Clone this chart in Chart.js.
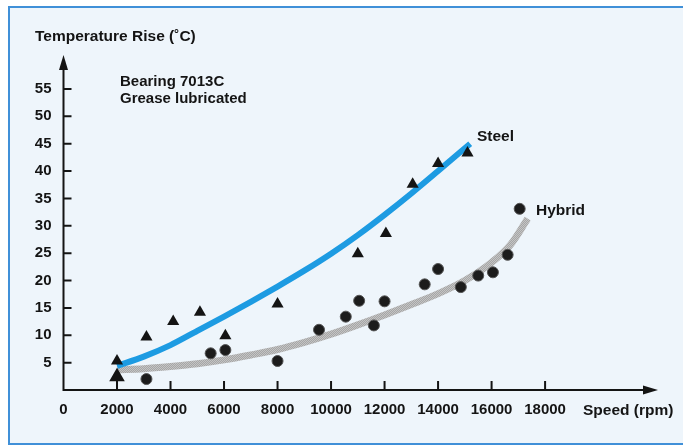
<!DOCTYPE html>
<html>
<head>
<meta charset="utf-8">
<script src="https://cdn.jsdelivr.net/npm/chart.js@4"></script>
<style>
  html, body { margin: 0; padding: 0; background: #fff; }
  #wrap { width: 683px; height: 448px; position: relative; }
</style>
</head>
<body>
<div id="wrap"><canvas id="tempChart"></canvas></div>
<script>
// Axis ticks
const xTicks = [0, 2000, 4000, 6000, 8000, 10000, 12000, 14000, 16000, 18000];
const yTicks = [5, 10, 15, 20, 25, 30, 35, 40, 45, 50, 55];

const steelX = [2000, 3100, 4100, 5100, 6050, 8000, 11000, 12050, 13050, 14000, 15100];
const steelY = [5.3, 9.7, 12.5, 14.2, 9.9, 15.7, 24.9, 28.6, 37.6, 41.4, 43.3];

const hybridX = [3100, 5500, 6050, 8000, 9550, 10550, 11050, 11600, 12000, 13500, 14000, 14850, 15500, 16050, 16600, 17050];
const hybridY = [2.0, 6.7, 7.3, 5.3, 11.0, 13.4, 16.3, 11.8, 16.2, 19.3, 22.1, 18.8, 20.9, 21.5, 24.7, 33.1];

// Start marker at 2000 rpm (arrow)
const startX = [2000, 2000];
const startY = [0, 2.4];

// Trend curves
const steelCurveX = [2000, 3000, 4000, 5000, 6000, 7000, 8000, 9000, 10000, 11000, 12000, 13000, 14000, 15200];
const steelCurveY = [4.4, 6.1, 8.2, 10.8, 13.4, 16.1, 18.9, 21.8, 24.9, 28.3, 32.0, 35.9, 40.0, 45.0];

const hybridCurveX = [2000, 3000, 4000, 5000, 6000, 7000, 8000, 9000, 10000, 11000, 12000, 13000, 14000, 15000, 16000, 16700, 17350];
const hybridCurveY = [3.7, 3.9, 4.3, 4.8, 5.5, 6.4, 7.4, 8.7, 10.2, 11.9, 13.7, 15.6, 17.6, 20.0, 23.3, 26.5, 31.3];

const toPoints = (xs, ys) => xs.map((x, i) => ({ x: x, y: ys[i] }));

const FONT = '"Liberation Sans", Arial, sans-serif';
const INK = '#141414';

// stippled grey for the hybrid curve
function greyPattern() {
    const c = document.createElement('canvas');
    c.width = 2; c.height = 2;
    const g = c.getContext('2d');
    g.fillStyle = '#a6a6a6'; g.fillRect(0, 0, 2, 2);
    g.fillStyle = '#c4c4c4'; g.fillRect(0, 0, 1, 1); g.fillRect(1, 1, 1, 1);
    return g.createPattern(c, 'repeat');
}

const framePlugin = {
    id: 'frame',
    beforeDraw(chart) {
        const ctx = chart.ctx;
        ctx.save();
        ctx.fillStyle = '#ffffff';
        ctx.fillRect(0, 0, chart.width, chart.height);
        ctx.fillStyle = '#eef5fb';
        ctx.fillRect(9, 7, chart.width - 9, 437);
        ctx.strokeStyle = '#4090d8';
        ctx.lineWidth = 2;
        ctx.beginPath();
        ctx.moveTo(chart.width, 7);
        ctx.lineTo(9, 7);
        ctx.lineTo(9, 444);
        ctx.lineTo(chart.width, 444);
        ctx.stroke();
        ctx.restore();
    },
    beforeDatasetsDraw(chart) {
        const { ctx, chartArea, scales } = chart;
        const x0 = scales.x.getPixelForValue(0);
        const y0 = scales.y.getPixelForValue(0);
        ctx.save();
        ctx.strokeStyle = INK;
        ctx.fillStyle = INK;
        ctx.lineWidth = 2;
        // axes
        ctx.beginPath();
        ctx.moveTo(x0, y0);
        ctx.lineTo(x0, chartArea.top + 10);
        ctx.moveTo(x0 - 1, y0);
        ctx.lineTo(chartArea.right - 10, y0);
        ctx.stroke();
        // arrow heads
        ctx.beginPath();
        ctx.moveTo(x0, chartArea.top);
        ctx.lineTo(x0 - 4.5, chartArea.top + 15);
        ctx.lineTo(x0 + 4.5, chartArea.top + 15);
        ctx.closePath();
        ctx.fill();
        ctx.beginPath();
        ctx.moveTo(chartArea.right, y0);
        ctx.lineTo(chartArea.right - 15, y0 - 4.5);
        ctx.lineTo(chartArea.right - 15, y0 + 4.5);
        ctx.closePath();
        ctx.fill();
        // tick marks pointing inwards
        ctx.beginPath();
        yTicks.forEach(v => {
            const y = scales.y.getPixelForValue(v);
            ctx.moveTo(x0, y);
            ctx.lineTo(x0 + 8, y);
        });
        xTicks.forEach(v => {
            if (v === 0) return;
            const x = scales.x.getPixelForValue(v);
            ctx.moveTo(x, y0);
            ctx.lineTo(x, y0 - 9);
        });
        ctx.stroke();
        ctx.restore();
    },
    afterDraw(chart) {
        const ctx = chart.ctx;
        ctx.save();
        ctx.fillStyle = INK;
        ctx.textBaseline = 'middle';
        ctx.textAlign = 'left';
        ctx.font = 'bold 15.5px ' + FONT;
        ctx.fillText('Temperature Rise (˚C)', 35, 37);
        ctx.fillText('Steel', 477, 137);
        ctx.fillText('Hybrid', 536, 211);
        ctx.fillText('Speed (rpm)', 583, 411);
        ctx.font = 'bold 15px ' + FONT;
        ctx.fillText('Bearing 7013C', 120, 82);
        ctx.fillText('Grease lubricated', 120, 99);
        ctx.restore();
    }
};

const tickFont = { family: FONT, size: 15, weight: 'bold' };

new Chart(document.getElementById('tempChart'), {
    type: 'scatter',
    data: {
        datasets: [
            {
                label: 'Steel',
                data: toPoints(steelX, steelY),
                pointStyle: 'triangle',
                pointRadius: 7,
                backgroundColor: INK,
                borderColor: INK,
                borderWidth: 0,
                order: 0
            },
            {
                label: 'Hybrid',
                data: toPoints(hybridX, hybridY),
                pointStyle: 'circle',
                pointRadius: 5.5,
                backgroundColor: '#1c1c1c',
                borderColor: '#555',
                borderWidth: 1,
                order: 0
            },
            {
                label: 'Start',
                data: toPoints(startX, startY),
                showLine: true,
                borderColor: INK,
                borderWidth: 2,
                pointStyle: 'triangle',
                pointRadius: [0, 7],
                backgroundColor: INK,
                order: 0
            },
            {
                label: 'Steel trend',
                data: toPoints(steelCurveX, steelCurveY),
                showLine: true,
                borderColor: '#1d9be2',
                borderWidth: 6,
                borderCapStyle: 'butt',
                cubicInterpolationMode: 'monotone',
                pointRadius: 0,
                order: 1
            },
            {
                label: 'Hybrid trend',
                data: toPoints(hybridCurveX, hybridCurveY),
                showLine: true,
                borderColor: greyPattern(),
                borderWidth: 7,
                borderCapStyle: 'butt',
                cubicInterpolationMode: 'monotone',
                pointRadius: 0,
                order: 2
            }
        ]
    },
    options: {
        responsive: true,
        maintainAspectRatio: false,
        animation: false,
        layout: { padding: { left: 0, right: 25, top: 55, bottom: 0 } },
        plugins: {
            legend: { display: false },
            tooltip: { enabled: false }
        },
        scales: {
            x: {
                type: 'linear',
                min: 0,
                max: 22220,
                afterBuildTicks: s => { s.ticks = xTicks.map(v => ({ value: v })); },
                afterFit: s => { s.height = 58; },
                grid: { display: false, drawTicks: false },
                border: { display: false },
                ticks: {
                    color: INK,
                    font: tickFont,
                    padding: 11,
                    maxRotation: 0,
                    autoSkip: false,
                    callback: v => String(v)
                }
            },
            y: {
                type: 'linear',
                min: 0,
                max: 61.2,
                afterBuildTicks: s => { s.ticks = yTicks.map(v => ({ value: v })); },
                afterFit: s => { s.width = 63.5; },
                grid: { display: false, drawTicks: false },
                border: { display: false },
                ticks: {
                    color: INK,
                    font: tickFont,
                    padding: 12,
                    autoSkip: false,
                    callback: v => String(v)
                }
            }
        }
    },
    plugins: [framePlugin]
});
</script>
</body>
</html>
